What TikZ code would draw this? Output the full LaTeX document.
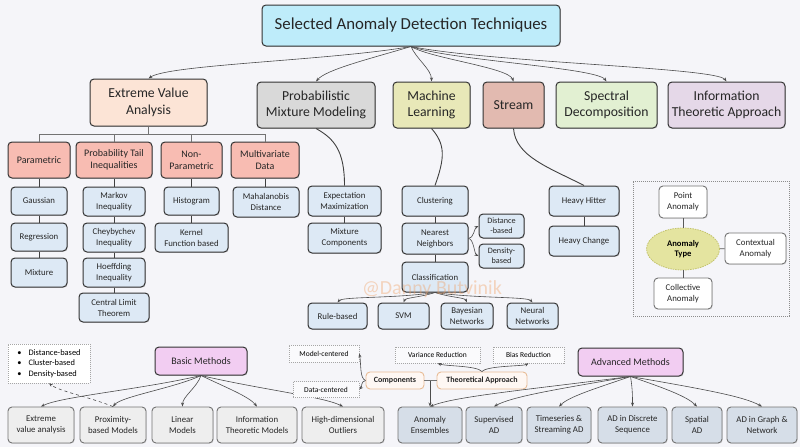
\documentclass[tikz,border=0pt]{standalone}
\usepackage{fontspec}
\setmainfont{Carlito}
\usetikzlibrary{arrows.meta,shadows,calc,shapes.geometric}
\definecolor{bgc}{RGB}{245,245,249}
\definecolor{titlef}{RGB}{190,236,250}
\definecolor{evaf}{RGB}{252,228,214}
\definecolor{pmmf}{RGB}{217,217,217}
\definecolor{mlf}{RGB}{232,232,184}
\definecolor{streamf}{RGB}{226,186,176}
\definecolor{specf}{RGB}{226,240,210}
\definecolor{infof}{RGB}{229,216,232}
\definecolor{salmonf}{RGB}{248,188,178}
\definecolor{leaff}{RGB}{221,233,245}
\definecolor{pinkf}{RGB}{242,205,242}
\definecolor{grayf}{RGB}{238,238,238}
\definecolor{advf}{RGB}{214,222,232}
\definecolor{ellf}{RGB}{228,228,160}
\definecolor{elld}{RGB}{195,195,110}
\definecolor{orgd}{RGB}{232,188,150}
\definecolor{wmark}{RGB}{240,160,100}
\begin{document}
\begin{tikzpicture}[x=1pt,y=-1pt,
  base/.style={rounded corners=4pt, align=center, inner sep=1pt, text=black!85},
  bx/.style={base, draw=black!80, line width=1pt,
     drop shadow={shadow xshift=0.8pt,shadow yshift=-0.8pt,opacity=0.25}},
  lgbx/.style={base, draw=black!55, line width=0.9pt,
     drop shadow={shadow xshift=0.8pt,shadow yshift=-0.8pt,opacity=0.2}},
  fT/.style={font=\fontsize{16.8}{19}\selectfont},
  fA/.style={font=\fontsize{13.7}{16.5}\selectfont},
  fB/.style={font=\fontsize{10}{12}\selectfont},
  fC/.style={font=\fontsize{8.8}{11}\selectfont},
  fD/.style={font=\fontsize{7.5}{9}\selectfont},
  fE/.style={font=\fontsize{8.2}{10}\selectfont},
  dotbx/.style={draw=black!35, dash pattern=on 1pt off 1pt, line width=0.5pt,
     fill=white!50!bgc, inner sep=1pt, fD},
  obx/.style={base, draw=orgd, line width=0.9pt, fill=white!70!evaf,
     font=\fontsize{8}{9.5}\selectfont\bfseries},
  conn/.style={draw=black!75, line width=0.9pt},
  thin/.style={draw=black!55, line width=0.6pt},
  arr/.style={draw=black!70, line width=0.6pt, -{Stealth[length=4pt,width=3pt]}},
]
\fill[bgc] (0,0) rectangle (800,447);
\useasboundingbox (0,0) rectangle (800,447);

% ---------- title & level 1
\node[bx, fT, fill=titlef, minimum width=298pt, minimum height=41pt] (title) at (411,25.5) {Selected Anomaly Detection Techniques};
\node[bx, fA, fill=evaf, minimum width=117pt, minimum height=47pt] (eva) at (148.5,102.5) {Extreme Value\\Analysis};
\node[bx, fA, fill=pmmf, minimum width=118pt, minimum height=46pt] (pmm) at (316,105) {Probabilistic\\Mixture Modeling};
\node[bx, fA, fill=mlf, minimum width=77pt, minimum height=46pt] (ml) at (431.5,105) {Machine\\Learning};
\node[bx, fA, fill=streamf, minimum width=61pt, minimum height=46pt] (stream) at (513.5,105) {Stream};
\node[bx, fA, fill=specf, minimum width=101pt, minimum height=46pt] (spec) at (606.5,105) {Spectral\\Decomposition};
\node[bx, fA, fill=infof, minimum width=117pt, minimum height=46pt] (info) at (726.5,105) {Information\\Theoretic Approach};

\draw[arr] (title.south) .. controls +(-80,14) and +(20,-14) .. (eva.north);
\draw[arr] (title.south) .. controls +(-40,12) and +(10,-12) .. (pmm.north);
\draw[arr] (title.south) .. controls +(5,12) and +(0,-12) .. (ml.north);
\draw[arr] (title.south) .. controls +(20,12) and +(-5,-14) .. (stream.north);
\draw[arr] (title.south) .. controls +(40,14) and +(-10,-14) .. (spec.north);
\draw[arr] (title.south) .. controls +(80,16) and +(-10,-14) .. (info.north);

% ---------- extreme value analysis
\node[bx, fB, fill=salmonf, minimum width=62pt, minimum height=36pt] (param) at (39,160) {Parametric};
\node[bx, fB, fill=salmonf, minimum width=76pt, minimum height=36pt] (prob) at (114,160) {Probability Tail\\Inequalities};
\node[bx, fB, fill=salmonf, minimum width=61pt, minimum height=36pt] (nonpar) at (191.5,160) {Non-\\Parametric};
\node[bx, fB, fill=salmonf, minimum width=68pt, minimum height=36pt] (multi) at (265,160) {Multivariate\\Data};
\coordinate (evaj) at (148.5,134);
\draw[thin] (eva.south) -- (evaj);
\draw[thin] (param.north) |- (multi.north |- evaj) -- (multi.north);
\draw[thin] (prob.north) -- (prob.north |- evaj);
\draw[thin] (nonpar.north) -- (nonpar.north |- evaj);

\node[bx, fC, fill=leaff, minimum width=56pt, minimum height=28pt] (gauss) at (39,201) {Gaussian};
\node[bx, fC, fill=leaff, minimum width=56pt, minimum height=28pt] (regr) at (39,237) {Regression};
\node[bx, fC, fill=leaff, minimum width=56pt, minimum height=29pt] (mixt) at (39,272.5) {Mixture};
\node[bx, fC, fill=leaff, minimum width=62pt, minimum height=29pt] (markov) at (114,201.5) {Markov\\Inequality};
\node[bx, fC, fill=leaff, minimum width=62pt, minimum height=29pt] (cheby) at (114,237.5) {Cheybychev\\Inequality};
\node[bx, fC, fill=leaff, minimum width=62pt, minimum height=29pt] (hoeff) at (114,272.5) {Hoeffding\\Inequality};
\node[bx, fC, fill=leaff, minimum width=70pt, minimum height=29pt] (clt) at (114,307.5) {Central Limit\\Theorem};
\node[bx, fC, fill=leaff, minimum width=55pt, minimum height=28pt] (hist) at (191.5,201) {Histogram};
\node[bx, fC, fill=leaff, minimum width=73pt, minimum height=29pt] (kernel) at (191.5,237.5) {Kernel\\Function based};
\node[bx, fC, fill=leaff, minimum width=66pt, minimum height=30pt] (mahal) at (266,202) {Mahalanobis\\Distance};
\draw[conn] (param) -- (gauss) -- (regr) -- (mixt);
\draw[conn] (prob) -- (markov) -- (cheby) -- (hoeff) -- (clt);
\draw[conn] (nonpar) -- (hist) -- (kernel);
\draw[conn] (multi.south) -- (multi.south |- mahal.north);

% ---------- probabilistic mixture
\node[bx, fC, fill=leaff, minimum width=73pt, minimum height=30pt] (em) at (344.5,201) {Expectation\\Maximization};
\node[bx, fC, fill=leaff, minimum width=73pt, minimum height=30pt] (mixc) at (344.5,238) {Mixture\\Components};
\draw[conn] (pmm.south) .. controls +(18,10) and +(0,-35) .. (em.north);
\draw[conn] (em) -- (mixc);

% ---------- machine learning
\node[bx, fC, fill=leaff, minimum width=66pt, minimum height=30pt] (clus) at (435,201) {Clustering};
\node[bx, fC, fill=leaff, minimum width=66pt, minimum height=31pt] (nn) at (435,238.5) {Nearest\\Neighbors};
\node[bx, fC, fill=leaff, minimum width=66pt, minimum height=30pt] (classif) at (435,277) {Classification};
\node[bx, fE, fill=leaff, minimum width=45pt, minimum height=24pt] (dist) at (501.5,226) {Distance\\-based};
\node[bx, fE, fill=leaff, minimum width=45pt, minimum height=24pt] (dens) at (501.5,256) {Density-\\based};
\node[bx, fC, fill=leaff, minimum width=59pt, minimum height=26pt] (rule) at (337.5,316) {Rule-based};
\node[bx, fC, fill=leaff, minimum width=51pt, minimum height=26pt] (svm) at (403.5,316) {SVM};
\node[bx, fC, fill=leaff, minimum width=52pt, minimum height=26pt] (bayes) at (467,316) {Bayesian\\Networks};
\node[bx, fC, fill=leaff, minimum width=51pt, minimum height=26pt] (neural) at (532.5,316) {Neural\\Networks};
\draw[conn] (ml.south) .. controls +(14,16) and +(10,-28) .. (clus.north);
\draw[conn] (clus) -- (nn) -- (classif);
\draw[arr] (nn.east) .. controls +(5,0) and +(-4,2) .. (dist.west);
\draw[arr] (nn.east) .. controls +(5,0) and +(-4,-2) .. (dens.west);
\draw[arr] (classif.south) .. controls +(-40,6) and +(5,-6) .. (rule.north);
\draw[arr] (classif.south) .. controls +(-15,5) and +(2,-5) .. (svm.north);
\draw[arr] (classif.south) .. controls +(15,5) and +(-2,-5) .. (bayes.north);
\draw[arr] (classif.south) .. controls +(40,6) and +(-5,-6) .. (neural.north);

% ---------- stream
\node[bx, fC, fill=leaff, minimum width=70pt, minimum height=30pt] (hh) at (584,201) {Heavy Hitter};
\node[bx, fC, fill=leaff, minimum width=70pt, minimum height=30pt] (hc) at (584,241) {Heavy Change};
\draw[conn] (stream.south) .. controls +(2,28) and +(-35,-18) .. (hh.north);
\draw[conn] (hh) -- (hc);

% ---------- anomaly types
\node[draw=black!45, dash pattern=on 1.2pt off 0.8pt, line width=0.9pt, minimum width=156pt, minimum height=135pt, inner sep=0pt] (abox) at (711,248.5) {};
\node[lgbx, fC, fill=white, minimum width=48pt, minimum height=32pt] (point) at (683,202) {Point\\Anomaly};
\node[ellipse, draw=elld, dash pattern=on 1.5pt off 1pt, line width=0.8pt, fill=ellf, minimum width=73pt, minimum height=42pt, inner sep=0pt, align=center, font=\fontsize{8.6}{10.5}\selectfont\bfseries] (atype) at (683,249) {Anomaly\\Type};
\node[lgbx, fC, fill=white, minimum width=61pt, minimum height=31pt] (context) at (755.5,248.5) {Contextual\\Anomaly};
\node[lgbx, fC, fill=white, minimum width=58pt, minimum height=31pt] (collect) at (683,293.5) {Collective\\Anomaly};
\draw[conn, draw=black!65] (point) -- (atype);
\draw[conn, draw=black!65] (atype) -- (context);
\draw[conn, draw=black!65] (atype) -- (collect);

% ---------- basic methods
\node[draw=black!35, dash pattern=on 1pt off 1pt, line width=0.5pt, fill=white, minimum width=82pt, minimum height=39pt, align=left, inner sep=1pt, font=\fontsize{8.4}{10.5}\selectfont] (bullets) at (49,363.5) {\textbullet\hspace{7pt}Distance-based\\\textbullet\hspace{7pt}Cluster-based\\\textbullet\hspace{7pt}Density-based};
\node[bx, fB, fill=pinkf, minimum width=92pt, minimum height=28pt] (basic) at (201,361) {Basic Methods};
\node[lgbx, fC, fill=grayf, minimum width=66pt, minimum height=36pt] (b1) at (41,425) {Extreme\\value analysis};
\node[lgbx, fC, fill=grayf, minimum width=66pt, minimum height=36pt] (b2) at (113,425) {Proximity-\\based Models};
\node[lgbx, fC, fill=grayf, minimum width=61pt, minimum height=36pt] (b3) at (182.5,425) {Linear\\Models};
\node[lgbx, fC, fill=grayf, minimum width=80pt, minimum height=36pt] (b4) at (257,425) {Information\\Theoretic Models};
\node[lgbx, fC, fill=grayf, minimum width=82pt, minimum height=36pt] (b5) at (343,425) {High-dimensional\\Outliers};
\draw[arr] (basic.south) .. controls +(-60,14) and +(20,-10) .. (b1.north);
\draw[arr] (basic.south) .. controls +(-25,12) and +(8,-10) .. (b2.north);
\draw[arr] (basic.south) .. controls +(-4,12) and +(0,-10) .. (b3.north);
\draw[arr] (basic.south) .. controls +(25,12) and +(-8,-10) .. (b4.north);
\draw[arr] (basic.south) .. controls +(60,14) and +(-20,-10) .. (b5.north);
\draw[arr, dashed] (b2.north) .. controls +(-25,-10) and +(10,8) .. (bullets.south);

% ---------- components / theoretical approach
\node[dotbx] (modelc) at (324,353.5) [minimum width=70pt, minimum height=17pt] {Model-centered};
\node[dotbx] (datac) at (326,389.5) [minimum width=66pt, minimum height=16pt] {Data-centered};
\node[dotbx] (var) at (437.5,355) [minimum width=85pt, minimum height=16pt] {Variance Reduction};
\node[dotbx] (bias) at (528.5,355) [minimum width=71pt, minimum height=16pt] {Bias Reduction};
\node[obx, minimum width=58pt, minimum height=17pt] (comp) at (395,380.5) {Components};
\node[obx, minimum width=90pt, minimum height=17pt] (theo) at (482,380.5) {Theoretical Approach};
\draw[arr] (comp.west) .. controls +(-6,-2) and +(2,10) .. (modelc.east);
\draw[arr] (comp.west) .. controls +(-5,1) and +(3,-3) .. (datac.east);
\draw[arr] (theo.north) .. controls +(-5,-6) and +(8,3) .. (var.south);
\draw[arr] (theo.north) .. controls +(5,-6) and +(-5,3) .. (bias.south);
\coordinate (ctj) at (430,380.5);
\draw[thin] (comp.east) -- (theo.west);

% ---------- advanced methods
\node[bx, fB, fill=pinkf, minimum width=105pt, minimum height=28pt] (adv) at (630.5,362) {Advanced Methods};
\node[lgbx, fC, fill=advf, minimum width=64pt, minimum height=36pt] (ens) at (430,425) {Anomaly\\Ensembles};
\node[lgbx, fC, fill=advf, minimum width=56pt, minimum height=36pt] (sup) at (494,425) {Supervised\\AD};
\node[lgbx, fC, fill=advf, minimum width=64pt, minimum height=36pt] (ts) at (559,425) {Timeseries \&\\Streaming AD};
\node[lgbx, fC, fill=advf, minimum width=69pt, minimum height=36pt] (disc) at (632.5,425) {AD in Discrete\\Sequence};
\node[lgbx, fC, fill=advf, minimum width=50pt, minimum height=36pt] (spat) at (697,425) {Spatial\\AD};
\node[lgbx, fC, fill=advf, minimum width=70pt, minimum height=36pt] (graph) at (762,425) {AD in Graph \&\\Network};
\draw[arr] (ctj) -- (ens.north);
\draw[arr] (adv.south) .. controls +(-110,14) and +(25,-10) .. (ens.north);
\draw[arr] (adv.south) .. controls +(-75,13) and +(18,-10) .. (sup.north);
\draw[arr] (adv.south) .. controls +(-35,12) and +(10,-10) .. (ts.north);
\draw[arr] (adv.south) .. controls +(2,12) and +(0,-10) .. (disc.north);
\draw[arr] (adv.south) .. controls +(35,12) and +(-10,-10) .. (spat.north);
\draw[arr] (adv.south) .. controls +(75,13) and +(-18,-10) .. (graph.north);

% ---------- watermark
\node[text=wmark, opacity=0.4, font=\fontsize{20}{22}\selectfont] (wm) at (432,289) {@Danny Butvinik};
\end{tikzpicture}
\end{document}
